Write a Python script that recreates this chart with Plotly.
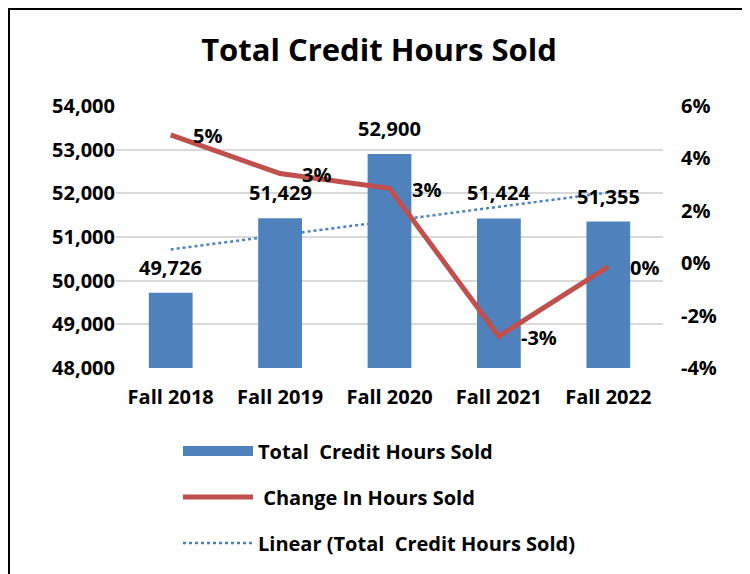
import numpy as np
import plotly.graph_objects as go

categories = ["Fall 2018", "Fall 2019", "Fall 2020", "Fall 2021", "Fall 2022"]
credit_hours = [49726, 51429, 52900, 51424, 51355]
pct_change = [0.049, 0.0342, 0.0286, -0.0279, -0.0013]
left_ticks = [48000, 49000, 50000, 51000, 52000, 53000, 54000]
right_ticks = [-0.04, -0.02, 0.0, 0.02, 0.04, 0.06]
right_tick_labels = ["-4%", "-2%", "0%", "2%", "4%", "6%"]

# linear trendline fitted to the bar values
xi = np.arange(len(credit_hours))
slope, intercept = np.polyfit(xi, credit_hours, 1)
trend = slope * xi + intercept

BLUE = "#4f81bd"
RED = "#c0504d"
FONT = "Open Sans"
FS = 20
bold = dict(family=FONT, size=FS, color="black", weight="bold")

# page body adds an 8px offset; the figure is laid out in its own pixel space
W, H = 742, 566
L, R, T, B = 108, 655, 98, 360
PW, PH = R - L, B - T

fig = go.Figure()
fig.add_trace(go.Bar(
    x=categories, y=credit_hours, name="Total  Credit Hours Sold",
    marker=dict(color=BLUE, line=dict(width=0)), width=0.4,
    showlegend=False,
))
# legend entry for the bars (wide rectangle swatch)
fig.add_trace(go.Scatter(
    x=[None], y=[None], mode="lines", name="Total  Credit Hours Sold",
    line=dict(color=BLUE, width=12), legendgroup="a",
))
fig.add_trace(go.Scatter(
    x=categories, y=pct_change, yaxis="y2", mode="lines",
    name="\u00a0Change In Hours Sold", line=dict(color=RED, width=5),
    legendgroup="b",
))
fig.add_trace(go.Scatter(
    x=categories, y=trend, mode="lines",
    name="Linear (Total  Credit Hours Sold)",
    line=dict(color=BLUE, width=2.5, dash="dot"),
    legendgroup="c",
))

annotations = []
for c, v in zip(categories, credit_hours):
    annotations.append(dict(
        x=c, y=v, xref="x", yref="y", text=f"{v:,}", showarrow=False,
        yanchor="bottom", yshift=10, font=bold,
    ))
for c, p in zip(categories, pct_change):
    annotations.append(dict(
        x=c, y=p, xref="x", yref="y2", text=f"{round(p * 100):d}%", showarrow=False,
        xanchor="left", xshift=20, yshift=-1, font=bold,
    ))

fig.update_layout(
    width=W, height=H,
    margin=dict(l=L, r=W - R, t=T, b=H - B, autoexpand=False),
    paper_bgcolor="white", plot_bgcolor="white",
    title=dict(text="<b>Total Credit Hours Sold</b>", x=0.5, xanchor="center",
               y=1 - 42 / H, yanchor="middle", yref="container",
               font=dict(family=FONT, size=31, color="black")),
    font=dict(family=FONT, color="black"),
    xaxis=dict(showgrid=False, showline=False, ticks="", ticklabelstandoff=15,
               tickfont=bold),
    yaxis=dict(range=[48000, 54000], tickvals=left_ticks, tickformat=",",
               showgrid=True, gridcolor="#d9d9d9", gridwidth=1.5,
               zeroline=False, showline=False, ticks="", tickfont=bold),
    yaxis2=dict(range=[-0.04, 0.06], tickvals=right_ticks, ticktext=right_tick_labels,
                overlaying="y", side="right", showgrid=False, zeroline=False,
                showline=False, ticks="", ticklabelstandoff=17, tickfont=bold),
    showlegend=True,
    legend=dict(x=(170 - L) / PW, y=-(423.5 - B) / PH, xanchor="left", yanchor="top",
                orientation="v", traceorder="grouped", tracegroupgap=17,
                itemwidth=70, font=bold),
    annotations=annotations,
    shapes=[dict(type="rect", xref="paper", yref="paper",
                 x0=(1 - L) / PW, x1=(736 - L) / PW,
                 y0=-(H + 20 - B) / PH, y1=1 + (T - 1) / PH,
                 line=dict(color="black", width=2), fillcolor="rgba(0,0,0,0)",
                 layer="below")],
)

fig.write_html("out.html")
